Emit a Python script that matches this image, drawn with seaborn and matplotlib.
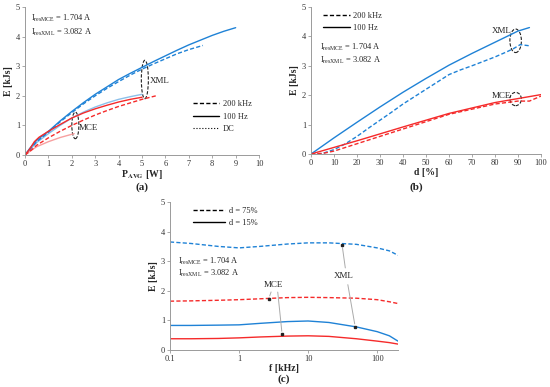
import matplotlib
matplotlib.use("Agg")
import matplotlib.pyplot as plt
from matplotlib.patches import Ellipse
from matplotlib.lines import Line2D
import seaborn as sns

# ---------------- data: panel (a) ----------------
a_xml_100_x = [0, 0.2, 0.5, 1, 1.5, 2, 2.5, 3, 3.5, 4, 4.5, 5, 5.5, 6, 6.5, 7, 7.5, 8, 8.5, 9]
a_xml_100_y = [0, 0.22, 0.5, 0.8, 1.15, 1.47, 1.77, 2.05, 2.3, 2.55, 2.76, 2.96, 3.16, 3.35, 3.54, 3.72, 3.88, 4.04, 4.18, 4.3]
a_xml_200_x = [0, 0.2, 0.5, 1, 1.5, 2, 2.5, 3, 3.5, 4, 4.5, 5, 5.5, 6, 6.5, 7, 7.6]
a_xml_200_y = [0, 0.18, 0.45, 0.77, 1.12, 1.43, 1.73, 2.0, 2.25, 2.48, 2.7, 2.9, 3.08, 3.25, 3.42, 3.56, 3.7]
a_xml_dc_x = [0, 0.25, 0.5, 1, 1.5, 2, 2.5, 3, 3.5, 4, 4.5, 5]
a_xml_dc_y = [0, 0.22, 0.42, 0.72, 1.0, 1.25, 1.45, 1.62, 1.76, 1.88, 1.97, 2.05]
a_mce_100_x = [0, 0.2, 0.4, 0.6, 0.8, 1, 1.5, 2, 2.5, 3, 3.5, 4, 4.5, 5]
a_mce_100_y = [0, 0.2, 0.45, 0.6, 0.7, 0.8, 1.03, 1.25, 1.42, 1.56, 1.68, 1.79, 1.88, 1.95]
a_mce_200_x = [0, 0.25, 0.5, 1, 1.5, 2, 2.5, 3, 3.5, 4, 4.5, 5, 5.6]
a_mce_200_y = [0, 0.15, 0.33, 0.58, 0.8, 1.0, 1.18, 1.35, 1.5, 1.64, 1.76, 1.88, 2.0]
a_mce_dc_x = [0, 0.25, 0.5, 1, 1.5, 2, 2.1]
a_mce_dc_y = [0, 0.15, 0.28, 0.45, 0.59, 0.7, 0.72]

# ---------------- data: panel (b) ----------------
b_xml_100_x = [0, 10, 20, 30, 40, 50, 60, 70, 80, 90, 95]
b_xml_100_y = [0, 0.55, 1.08, 1.6, 2.1, 2.57, 3.02, 3.42, 3.8, 4.18, 4.3]
b_xml_200_x = [0, 5, 10, 15, 20, 25, 30, 35, 40, 45, 50, 55, 60, 65, 70, 75, 80, 85, 88, 91, 95]
b_xml_200_y = [0, 0.02, 0.15, 0.35, 0.6, 0.88, 1.15, 1.42, 1.7, 1.95, 2.2, 2.45, 2.7, 2.86, 3.0, 3.15, 3.3, 3.47, 3.58, 3.72, 3.68]
b_mce_100_x = [0, 20, 40, 60, 80, 100]
b_mce_100_y = [0, 0.45, 0.92, 1.38, 1.75, 2.02]
b_mce_200_x = [0, 5, 10, 20, 40, 60, 80, 90, 95, 100]
b_mce_200_y = [0, 0.02, 0.1, 0.35, 0.85, 1.35, 1.7, 1.8, 1.8, 1.97]

# ---------------- data: panel (c) ----------------
c_f = [0.1, 0.2, 0.5, 1, 2, 5, 10, 20, 50, 100, 150, 200]
c_xml_75 = [3.65, 3.6, 3.5, 3.45, 3.5, 3.58, 3.62, 3.62, 3.57, 3.45, 3.35, 3.2]
c_mce_75 = [1.65, 1.66, 1.68, 1.7, 1.73, 1.77, 1.78, 1.77, 1.75, 1.7, 1.63, 1.57]
c_xml_15 = [0.83, 0.83, 0.84, 0.85, 0.9, 0.96, 0.98, 0.93, 0.78, 0.62, 0.48, 0.3]
c_mce_15 = [0.38, 0.38, 0.39, 0.41, 0.44, 0.47, 0.48, 0.46, 0.38, 0.3, 0.25, 0.2]

x_ticks_a = [0, 1, 2, 3, 4, 5, 6, 7, 8, 9, 10]
x_ticks_b = [0, 10, 20, 30, 40, 50, 60, 70, 80, 90, 100]
x_ticks_c = [0.1, 1, 10, 100]
x_ticklabels_c = ["0.1", "1", "10", "100"]
y_ticks = [0, 1, 2, 3, 4, 5]

BLUE = "#1f82d6"
RED = "#f52a2a"
LBLUE = "#8cc0ea"
LRED = "#f7a0a0"
DASH = (3, 1.6)

sns.set_theme(style="ticks")
plt.rcParams["font.family"] = ["Liberation Serif", "DejaVu Serif"]
plt.rcParams["mathtext.fontset"] = "stix"

fig = plt.figure(figsize=(5.5, 3.87), dpi=100)
ax_a = fig.add_axes([0.0455, 0.5995, 0.4255, 0.3825])
ax_b = fig.add_axes([0.5655, 0.602, 0.418, 0.38])
ax_c = fig.add_axes([0.309, 0.0956, 0.4146, 0.3824])


def line(ax, x, y, color, lw=1.0, dashes=None):
    sns.lineplot(x=x, y=y, ax=ax, color=color, lw=lw,
                 estimator=None, sort=False, legend=False)
    if dashes is not None:
        ax.lines[-1].set_dashes(dashes)


def style(ax):
    for s in ["top", "right"]:
        ax.spines[s].set_visible(False)
    for s in ["left", "bottom"]:
        ax.spines[s].set_color("#9a9a9a")
        ax.spines[s].set_linewidth(0.7)
    ax.tick_params(axis="both", labelsize=6, length=2, width=0.6,
                   color="#9a9a9a", pad=1.5, labelcolor="#333333")
    ax.set_yticks(y_ticks)
    ax.set_ylim(0, 5)
    ax.set_ylabel("E [kJs]", fontsize=7, fontweight="bold", labelpad=2)


# ----- panel (a) -----
line(ax_a, a_xml_dc_x, a_xml_dc_y, LBLUE, lw=1.0)
line(ax_a, a_mce_dc_x, a_mce_dc_y, LRED, lw=1.0)
line(ax_a, a_xml_200_x, a_xml_200_y, BLUE, dashes=DASH)
line(ax_a, a_xml_100_x, a_xml_100_y, BLUE)
line(ax_a, a_mce_200_x, a_mce_200_y, RED, dashes=DASH)
line(ax_a, a_mce_100_x, a_mce_100_y, RED)
style(ax_a)
ax_a.set_xlim(0, 10)
ax_a.set_xticks(x_ticks_a)
ax_a.set_xlabel(r"P$_\mathbf{AVG}$ [W]", fontsize=7, fontweight="bold", labelpad=0)
ax_a.add_patch(Ellipse((2.15, 1.0), 0.3, 0.9, fill=False, ls=(0, (3, 1.5)), lw=0.8, ec="#222222"))
ax_a.add_patch(Ellipse((5.12, 2.55), 0.3, 1.3, fill=False, ls=(0, (3, 1.5)), lw=0.8, ec="#222222"))
ax_a.text(2.3, 0.9, "MCE", fontsize=6.5, va="center")
ax_a.text(5.35, 2.5, "XML", fontsize=6.5, va="center")
ax_a.text(0.25, 4.6, r"I$_{\mathregular{resMCE}}$ = 1.704 A", fontsize=6, va="center")
ax_a.text(0.25, 4.15, r"I$_{\mathregular{resXML}}$ = 3.082 A", fontsize=6, va="center")
h_a = [Line2D([], [], color="black", lw=1, dashes=DASH),
       Line2D([], [], color="black", lw=1),
       Line2D([], [], color="black", lw=0.8, ls=":")]
ax_a.legend(h_a, ["200 kHz", "100 Hz", "DC"], loc="lower right", fontsize=6,
            frameon=False, handlelength=3.2, handletextpad=0.4, labelspacing=0.5,
            bbox_to_anchor=(1.0, 0.1))
fig.text(0.258, 0.517, "(a)", fontsize=8, fontweight="bold", ha="center", va="center")

# ----- panel (b) -----
line(ax_b, b_xml_200_x, b_xml_200_y, BLUE, dashes=DASH)
line(ax_b, b_xml_100_x, b_xml_100_y, BLUE)
line(ax_b, b_mce_200_x, b_mce_200_y, RED, dashes=DASH)
line(ax_b, b_mce_100_x, b_mce_100_y, RED)
style(ax_b)
ax_b.set_xlim(0, 100)
ax_b.set_xticks(x_ticks_b)
ax_b.set_xlabel("d [%]", fontsize=7, fontweight="bold", labelpad=1)
ax_b.add_patch(Ellipse((89, 3.85), 5, 0.8, fill=False, ls=(0, (3, 1.5)), lw=0.8, ec="#222222"))
ax_b.add_patch(Ellipse((89, 1.87), 5, 0.45, fill=False, ls=(0, (3, 1.5)), lw=0.8, ec="#222222"))
ax_b.text(78.5, 4.18, "XML", fontsize=6.5, va="center")
ax_b.text(78.5, 1.98, "MCE", fontsize=6.5, va="center")
ax_b.text(4, 3.63, r"I$_{\mathregular{resMCE}}$ = 1.704 A", fontsize=6, va="center")
ax_b.text(4, 3.2, r"I$_{\mathregular{resXML}}$ = 3.082 A", fontsize=6, va="center")
h_b = [Line2D([], [], color="black", lw=1, dashes=DASH),
       Line2D([], [], color="black", lw=1)]
ax_b.legend(h_b, ["200 kHz", "100 Hz"], loc="upper left", fontsize=6,
            frameon=False, handlelength=3.2, handletextpad=0.4, labelspacing=0.5,
            bbox_to_anchor=(0.02, 1.02))
fig.text(0.757, 0.517, "(b)", fontsize=8, fontweight="bold", ha="center", va="center")

# ----- panel (c) -----
line(ax_c, c_f, c_xml_75, BLUE, dashes=DASH)
line(ax_c, c_f, c_mce_75, RED, dashes=DASH)
line(ax_c, c_f, c_xml_15, BLUE)
line(ax_c, c_f, c_mce_15, RED)
ax_c.set_xscale("log")
style(ax_c)
ax_c.set_xlim(0.1, 200)
ax_c.set_xticks(x_ticks_c)
ax_c.set_xticklabels(x_ticklabels_c)
ax_c.minorticks_off()
ax_c.set_xlabel("f [kHz]", fontsize=7, fontweight="bold", labelpad=1)
ax_c.text(0.13, 3.0, r"I$_{\mathregular{resMCE}}$ = 1.704 A", fontsize=6, va="center")
ax_c.text(0.13, 2.6, r"I$_{\mathregular{resXML}}$ = 3.082 A", fontsize=6, va="center")
arrow = dict(arrowstyle="-", color="#aaaaaa", lw=0.7)
ax_c.annotate("", xy=(31, 3.56), xytext=(35, 2.68), arrowprops=arrow)
ax_c.annotate("", xy=(48, 0.79), xytext=(37, 2.3), arrowprops=arrow)
ax_c.text(33, 2.5, "XML", fontsize=6.5, ha="center", va="center")
ax_c.annotate("", xy=(2.7, 1.74), xytext=(3.0, 2.05), arrowprops=arrow)
ax_c.annotate("", xy=(4.2, 0.54), xytext=(3.6, 2.05), arrowprops=arrow)
ax_c.text(3.2, 2.2, "MCE", fontsize=6.5, ha="center", va="center")
for (px, py) in [(31, 3.56), (48, 0.79), (2.7, 1.74), (4.2, 0.54)]:
    ax_c.plot([px], [py], "s", ms=1.5, color="#222222")
h_c = [Line2D([], [], color="black", lw=1, dashes=DASH),
       Line2D([], [], color="black", lw=1)]
ax_c.legend(h_c, ["d = 75%", "d = 15%"], loc="upper left", fontsize=6,
            frameon=False, handlelength=3.8, handletextpad=0.5, labelspacing=0.5,
            bbox_to_anchor=(0.07, 1.02))
fig.text(0.516, 0.021, "(c)", fontsize=8, fontweight="bold", ha="center", va="center")

fig.savefig("out.png", dpi=100)
